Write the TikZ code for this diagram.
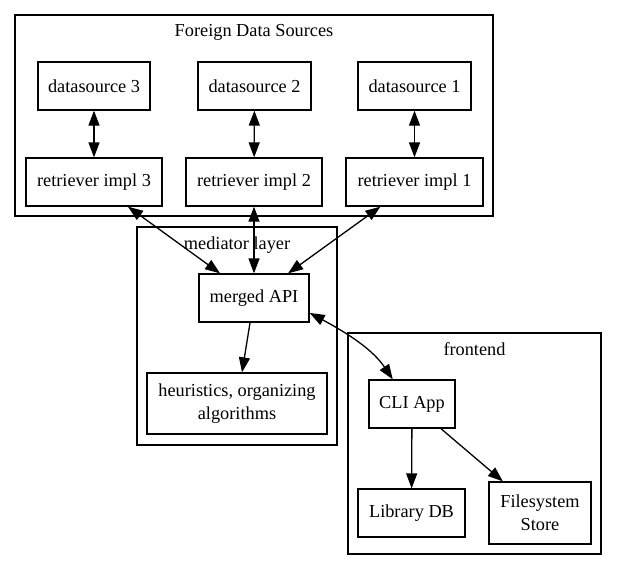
\documentclass[tikz,border=0pt]{standalone}
\usepackage{fontspec}
\setmainfont{Liberation Serif}
\usetikzlibrary{arrows.meta}
\begin{document}
\begin{tikzpicture}[x=1pt,y=-1pt,
  every node/.style={font=\fontsize{18.3}{23}\selectfont},
  box/.style={draw,line width=1.3pt,inner sep=0pt,align=center},
  cluster/.style={draw,line width=1.3pt,inner sep=0pt},
  title/.style={inner sep=0pt},
  tip/.style={-{Triangle[length=15pt,width=11pt]}},
  both/.style={{Triangle[length=15pt,width=11pt]}-{Triangle[length=15pt,width=11pt]}},
  edge/.style={line width=1.3pt}]
\useasboundingbox (0,0) rectangle (617,571);
% clusters
\node[cluster,minimum width=478pt,minimum height=201pt] (fds) at (254,115.5) {};
\node[title] (fdst) at (254,32) {Foreign Data Sources};
\node[cluster,minimum width=200pt,minimum height=218pt] (med) at (237,336) {};
\node[title] (medt) at (237,245) {mediator layer};
\node[cluster,minimum width=253pt,minimum height=221pt] (fe) at (474.5,443.5) {};
\node[title] (fet) at (474.5,349) {frontend};
% nodes
\node[box,minimum width=112pt,minimum height=48pt] (ds3) at (94,86) {datasource 3};
\node[box,minimum width=113pt,minimum height=48pt] (ds2) at (254.5,86) {datasource 2};
\node[box,minimum width=113pt,minimum height=48pt] (ds1) at (414.5,86) {datasource 1};
\node[box,minimum width=136pt,minimum height=48pt] (ri3) at (94,182) {retriever impl 3};
\node[box,minimum width=136pt,minimum height=48pt] (ri2) at (254,182) {retriever impl 2};
\node[box,minimum width=137pt,minimum height=48pt] (ri1) at (414.5,182) {retriever impl 1};
\node[box,minimum width=110pt,minimum height=48pt] (api) at (254,298) {merged API};
\node[box,minimum width=180pt,minimum height=61pt] (heu) at (237,403.5) {heuristics, organizing\\algorithms};
\node[box,minimum width=86pt,minimum height=48pt] (cli) at (412,404) {CLI App};
\node[box,minimum width=107pt,minimum height=48pt] (lib) at (411.5,513) {Library DB};
\node[box,minimum width=102pt,minimum height=62pt] (fs) at (540,513) {Filesystem\\Store};
% edges
\draw[edge,both] (ds3) -- (ri3);
\draw[edge,both] (ds2) -- (ri2);
\draw[edge,both] (ds1) -- (ri1);
\draw[edge,both] (ri3) -- (api);
\draw[edge,both] (ri2) -- (api);
\draw[edge,both] (ri1) -- (api);
\draw[edge,tip] (api) -- (heu);
\draw[edge,both] (api.-15) .. controls (349,334) and (373,350) .. (cli.128);
\draw[edge,tip] (cli) -- (lib);
\draw[edge,tip] (cli) -- (fs);
\end{tikzpicture}
\end{document}
